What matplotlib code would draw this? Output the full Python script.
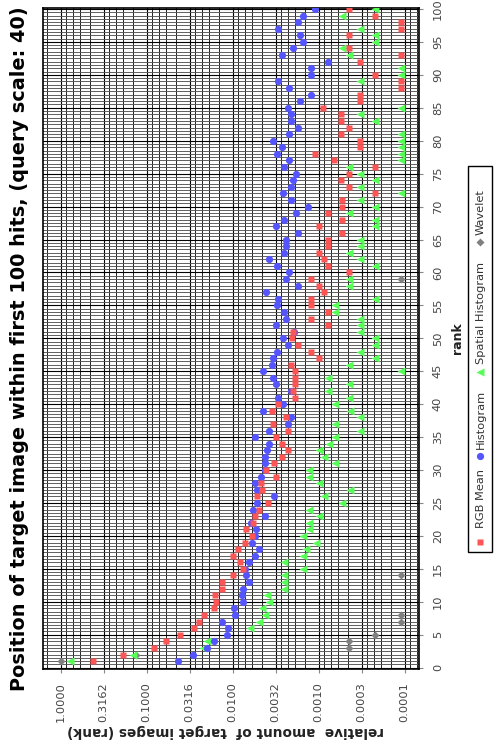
import numpy as np
import matplotlib
matplotlib.use("Agg")
import matplotlib.pyplot as plt
from matplotlib.lines import Line2D
from matplotlib.patches import Rectangle
from matplotlib.ticker import FixedLocator, NullFormatter

nan = np.nan

# ---------------- data ----------------
ranks = np.arange(1, 101)

rgb_mean = [
    0.418, 0.19, 0.082, 0.059, 0.0407, 0.0282, 0.0244, 0.0214, 0.0165, 0.0158,
    0.0161, 0.0134, 0.0134, 0.0098, 0.0075, 0.0083, 0.0098, 0.0086, 0.0072, 0.0060,
    0.0070, 0.0058, 0.0055, 0.0049, 0.00385, 0.0052, 0.0045, 0.0047, 0.0031, 0.0041,
    0.0033, 0.00265, 0.0023, 0.00265, 0.0031, 0.0023, 0.0034, 0.00242, 0.0035, 0.0030,
    0.00189, 0.0020, 0.00189, 0.00189, 0.00189, 0.0021, 0.00098, 0.00123, 0.00175, 0.00206,
    0.00197, 0.00077, 0.00123, 0.00077, 0.00123, 0.00123, 0.00087, 0.00098, 0.00123, 0.00044,
    0.00077, 0.00087, 0.00098, 0.00077, 0.00077, 0.00054, 0.00098, 0.00054, 0.00077, 0.00054,
    0.00054, 0.00022, 0.00044, 0.00055, 0.00044, 0.00022, 0.00066, 0.00109, 0.00033, 0.00033,
    0.00055, 0.00044, 0.00055, 0.00055, 0.00088, 0.00033, 0.00033, 0.00011, 0.00011, 0.00022,
    nan, 0.00033, 0.00011, 0.00044, nan, 0.00044, 0.00011, 0.00011, 0.00022, 0.00044,
]

histogram = [
    0.0436, 0.0287, 0.0197, 0.0166, 0.0117, 0.0112, 0.0134, 0.0094, 0.0097, 0.0075,
    0.0078, 0.0075, 0.0064, 0.0070, 0.0072, 0.0064, 0.0055, 0.0049, 0.0060, 0.0055,
    0.0054, 0.0061, 0.0042, 0.0058, 0.0052, 0.0033, 0.0052, 0.0055, 0.0047, 0.0042,
    0.0042, 0.0042, 0.0040, 0.0038, 0.0055, 0.0038, 0.0023, 0.0021, 0.0044, 0.0026,
    0.00295, 0.00212, 0.00316, 0.00343, 0.00441, 0.00352, 0.00337, 0.00308, 0.00229, 0.00258,
    0.00192, 0.00316, 0.0024, 0.00253, 0.00308, 0.00295, 0.0041, 0.00175, 0.0024, 0.0022,
    0.00308, 0.00375, 0.00253, 0.0024, 0.0024, 0.00175, 0.00316, 0.00253, 0.00185, 0.00132,
    0.00212, 0.00258, 0.0021, 0.00197, 0.00185, 0.00253, 0.0022, 0.00308, 0.00265, 0.00343,
    0.0022, 0.00175, 0.0021, 0.0021, 0.00229, 0.00165, 0.00123, 0.0022, 0.00295, 0.00123,
    0.00123, 0.00077, 0.00265, 0.00197, 0.00153, 0.00165, 0.00295, 0.00175, 0.00153, 0.00109,
]

spatial_histogram = [
    0.78, 0.146, 0.0223, 0.020, nan, 0.0063, 0.0050, 0.0042, 0.0045, 0.0038,
    0.0040, 0.0025, 0.0025, 0.0025, 0.0015, 0.0025, 0.0015, 0.0014, 0.00107, 0.0015,
    0.0013, 0.0013, 0.00098, 0.0013, 0.00054, 0.00087, 0.00043, 0.00098, 0.0013, 0.0013,
    0.00065, 0.00087, 0.00098, 0.00075, 0.00065, 0.00033, 0.00065, 0.00033, 0.00043, 0.00065,
    0.00044, 0.00077, 0.00044, 0.00077, 0.00011, 0.00044, 0.00022, 0.00033, 0.00022, 0.00022,
    0.00033, 0.00033, 0.00033, 0.00065, 0.00065, 0.00022, nan, 0.00044, 0.00044, nan,
    0.00022, 0.00033, 0.00044, 0.00033, 0.00033, nan, 0.00022, 0.00022, 0.00044, 0.00022,
    0.00033, 0.00011, 0.00033, 0.00022, 0.00033, 0.00044, 0.00011, 0.00011, 0.00011, 0.00011,
    0.00011, nan, 0.00022, 0.00033, 0.00011, nan, nan, nan, 0.00033, 0.00011,
    0.00011, nan, 0.00044, 0.00054, 0.00022, 0.00022, 0.00033, nan, 0.00054, 0.00022,
]

wavelet_ranks = [1, 2, 3, 4, 5, 7, 8, 14, 59]
wavelet = [1.0, 0.134, 0.00044, 0.00044, 0.00022, 0.00011, 0.00011, 0.00011, 0.00011]

series_names = ["RGB Mean", "Histogram", "Spatial Histogram", "Wavelet"]
value_tick_labels = ["1.0000", "0.3162", "0.1000", "0.0316", "0.0100",
                     "0.0032", "0.0010", "0.0003", "0.0001"]
rank_ticks = list(range(0, 101, 5))

title = "Position of target image within first 100 hits, (query scale: 40)"
value_label = "relative  amount of  target images (rank)"
rank_label = "rank"

# ---------------- style ----------------
RED, BLUE, GREEN, GRAY = "#FF5555", "#5555FF", "#55FF55", "#808080"
TXT = "#444444"

W, H = 500, 754
fig = plt.figure(figsize=(W / 100, H / 100), dpi=100)


def fx(px):
    return px / W


def fy(py):
    return 1 - py / H


L, R, T, B = 42.7, 419.0, 8.3, 668.7
ax = fig.add_axes([fx(L), fy(B), fx(R) - fx(L), fy(T) - fy(B)])
ax.set_xscale("log")
ax.set_xlim(1.62, 6.8e-5)
ax.set_ylim(-0.15, 100.1)

# log axis: half-decade majors, linear minor subdivisions between them
major_pos = [10 ** (-k / 2) for k in range(-1, 11)]
minor_pos = []
for a, b in zip(major_pos[:-1], major_pos[1:]):
    minor_pos += list(np.linspace(a, b, 6)[1:-1])
ax.xaxis.set_major_locator(FixedLocator(major_pos[1:10]))
ax.xaxis.set_major_formatter(plt.FixedFormatter(value_tick_labels))
ax.xaxis.set_minor_locator(FixedLocator(minor_pos))
ax.xaxis.set_minor_formatter(NullFormatter())

ax.yaxis.set_major_locator(FixedLocator(rank_ticks))
ax.yaxis.set_minor_locator(FixedLocator(np.arange(0, 100.01, 0.5)))
ax.yaxis.set_major_formatter(plt.FixedFormatter([str(r) for r in rank_ticks]))

ax.set_axisbelow(True)
ax.grid(True, which="major", axis="x", color="black", lw=0.8)
ax.grid(True, which="minor", axis="x", color="#222222", lw=0.7)
ax.grid(True, which="major", axis="y", color="black", lw=0.8)
ax.grid(True, which="minor", axis="y", color="#555555", lw=0.65)

ax.tick_params(axis="x", which="major", bottom=True, top=False, length=3,
               color="#888888", labelsize=8.2, labelcolor=TXT, labelrotation=90, pad=6.5)
ax.tick_params(axis="y", which="major", left=False, right=True, labelleft=False,
               labelright=True, length=3, color="#888888", labelsize=8.2,
               labelcolor=TXT, labelrotation=90, pad=7)
ax.tick_params(which="minor", length=0)
for lab in ax.get_yticklabels():
    lab.set_va("center")

for sp in ax.spines.values():
    sp.set_color("black")
    sp.set_linewidth(1.2)

# series (drawn wavelet first so RGB mean ends up on top)
ax.plot(wavelet, wavelet_ranks, ls="none", marker="D", ms=3.6, color=GRAY, mec="none", zorder=3)
ax.plot(spatial_histogram, ranks, ls="none", marker="<", ms=5.6, color=GREEN, mec="none", zorder=4)
ax.plot(histogram, ranks, ls="none", marker="o", ms=5.2, color=BLUE, mec="none", zorder=5)
ax.plot(rgb_mean, ranks, ls="none", marker="s", ms=5.0, color=RED, mec="none", zorder=6)

# texts
t_title = fig.text(fx(20), fy(349), title, rotation=90, ha="center", va="center",
                   fontweight="bold", fontsize=13, color="black")
t_vlab = fig.text(fx(226), fy(731), value_label, rotation=180, ha="center", va="center",
                  fontweight="bold", fontsize=9, color="#222222")
t_rank = fig.text(fx(457.5), fy(338), rank_label, rotation=90, ha="center", va="center",
                  fontweight="bold", fontsize=9, color="#222222")

fig.canvas.draw()
rend = fig.canvas.get_renderer()


def fit(t, target, dim):
    bb = t.get_window_extent(rend)
    cur = bb.height if dim == "h" else bb.width
    t.set_fontsize(t.get_fontsize() * target / cur)


fit(t_title, 678, "h")
fit(t_vlab, 315, "w")

# legend (rotated)
fig.add_artist(Rectangle((fx(468), fy(552)), fx(492) - fx(468), fy(166) - fy(552),
                         transform=fig.transFigure, facecolor="white",
                         edgecolor="black", lw=1.0))
leg_items = [
    (series_names[0], "s", RED, 542, 528, 5.0),
    (series_names[1], "o", BLUE, 456, 449, 5.2),
    (series_names[2], "<", GREEN, 372, 364, 5.6),
    (series_names[3], "D", GRAY, 242, 235, 3.6),
]
for name, mk, col, my, ty, ms in leg_items:
    fig.add_artist(Line2D([fx(480)], [fy(my)], transform=fig.transFigure, ls="none",
                          marker=mk, ms=ms, color=col, mec="none"))
    fig.text(fx(480.5), fy(ty), name, rotation=90, ha="center", va="bottom",
             fontsize=8.2, color="#333333")

fig.savefig("out.png", dpi=100)
